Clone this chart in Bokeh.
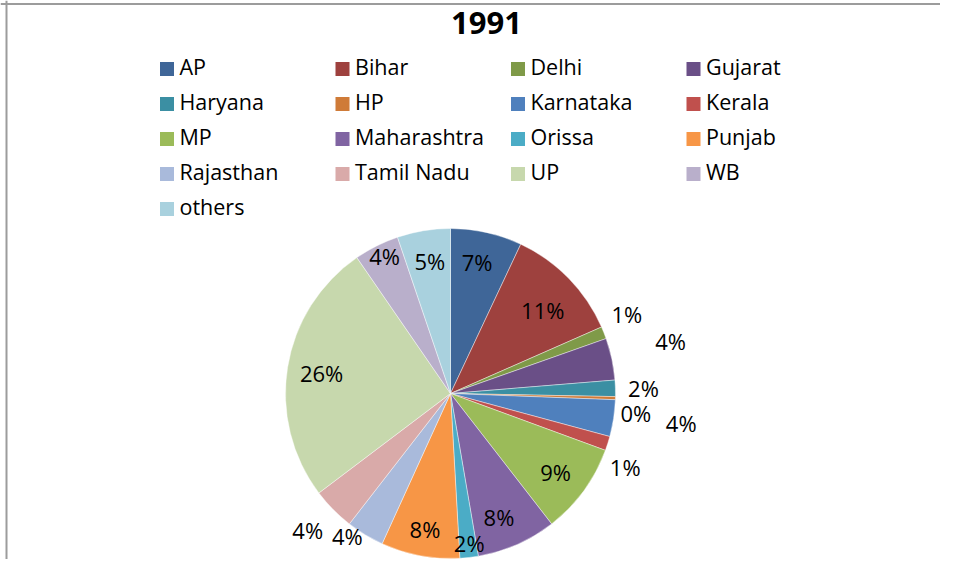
import numpy as np
from bokeh.plotting import figure
from bokeh.models import Range1d, ColumnDataSource, Span
from bokeh.core.properties import value
from bokeh.embed import file_html
from bokeh.resources import INLINE

# ---- data (percent share, 1991) ----
states = ["AP", "Bihar", "Delhi", "Gujarat", "Haryana", "HP", "Karnataka", "Kerala",
          "MP", "Maharashtra", "Orissa", "Punjab", "Rajasthan", "Tamil Nadu", "UP",
          "WB", "others"]
shares = [7.0, 11.4, 1.2, 4.1, 1.6, 0.3, 3.6, 1.4, 8.9, 7.8, 1.8, 7.7, 3.7, 4.2,
          25.7, 4.4, 5.2]
title_text = "1991"

# ---- styles ----
colors = ["#3F6698", "#9E413E", "#7F9A48", "#6A4F87", "#3B8FA3", "#CF7B38",
          "#4F80BD", "#C0504D", "#9BBB59", "#8064A2", "#4BACC6", "#F79646",
          "#A9BADB", "#D9AAA9", "#C7D8AD", "#B9AFCB", "#A9D1DE"]
# label placement: radial factor and angular nudge (degrees) per slice
label_r = [0.81, 0.75, 1.17, 1.37, 1.17, 1.13, 1.41, 1.15, 0.80, 0.81, 0.92,
           0.84, 1.07, 1.20, 0.79, 0.92, 0.81]
label_nudge = [-1.1, 2.5, -2.4, -1.1, 0.5, 4.7, -1.2, 5.3, 1.0, 2.5, -0.6,
               0.0, 4.6, 0.8, -0.7, 0.9, 0.5]

FONT = "Open Sans"
W, H = 940, 559
LBL_FS, LEG_FS, TTL_FS = 22, 21.5, 31


def base_fix(fs):
    # empirical shift of the alphabetic baseline in the svg output
    return 0.4 * fs


p = figure(width=W, height=H, output_backend="svg", toolbar_location=None,
           x_range=Range1d(0, W), y_range=Range1d(-H, 0),
           min_border=0, x_axis_location=None, y_axis_location=None)
p.grid.visible = False
p.outline_line_color = None
p.background_fill_color = "white"
p.border_fill_color = "white"

# chart border (top and left visible in the reference)
p.add_layout(Span(location=-3.5, dimension="width", line_color="#9C9C9C", line_width=2))
p.add_layout(Span(location=6, dimension="height", line_color="#9C9C9C", line_width=2))

# ---- pie ----
cx, cy, R = 450, -393, 165
vals = np.array(shares, dtype=float)
frac = vals / vals.sum()
cum_end = np.cumsum(frac) * 2 * np.pi
cum_start = np.concatenate([[0.0], cum_end[:-1]])
src = ColumnDataSource(dict(
    state=states,
    start=np.pi / 2 - cum_end,
    end=np.pi / 2 - cum_start,
    color=colors,
))
p.wedge(x=cx, y=cy, radius=R, start_angle="start", end_angle="end",
        direction="anticlock", fill_color="color", line_color="white",
        line_width=0.6, line_alpha=0.7, source=src)

# ---- data labels ----
mid = (cum_start + cum_end) / 2 + np.radians(label_nudge)
lr = np.array(label_r) * R
lx = cx + lr * np.sin(mid)
ly = cy + lr * np.cos(mid)           # glyph centre
labels = ["%d%%" % int(round(v / vals.sum() * 100)) for v in vals]
p.text(x=lx, y=ly - 8 + base_fix(LBL_FS), text=labels, text_font=value(FONT),
       text_font_size="%gpx" % LBL_FS, text_align="center",
       text_baseline="alphabetic", text_color="black")

# ---- title ----
p.text(x=[486], y=[-35 + base_fix(TTL_FS)], text=[title_text], text_font=value(FONT),
       text_font_size="%gpx" % TTL_FS, text_font_style="bold", text_align="center",
       text_baseline="alphabetic", text_color="black")

# ---- legend (4 columns) ----
ncol = 4
idx = np.arange(len(states))
col = idx % ncol
row = idx // ncol
sq_x = 166.5 + 175.5 * col
sq_y = -(68.5 + 35 * row)
p.rect(x=sq_x, y=sq_y, width=14, height=14, fill_color=colors, line_color=None)
p.text(x=sq_x + 12.5, y=sq_y - 6.5 + base_fix(LEG_FS), text=states, text_font=value(FONT),
       text_font_size="%gpx" % LEG_FS, text_align="left", text_baseline="alphabetic",
       text_color="black")

open("out.html", "w").write(file_html(p, INLINE))
